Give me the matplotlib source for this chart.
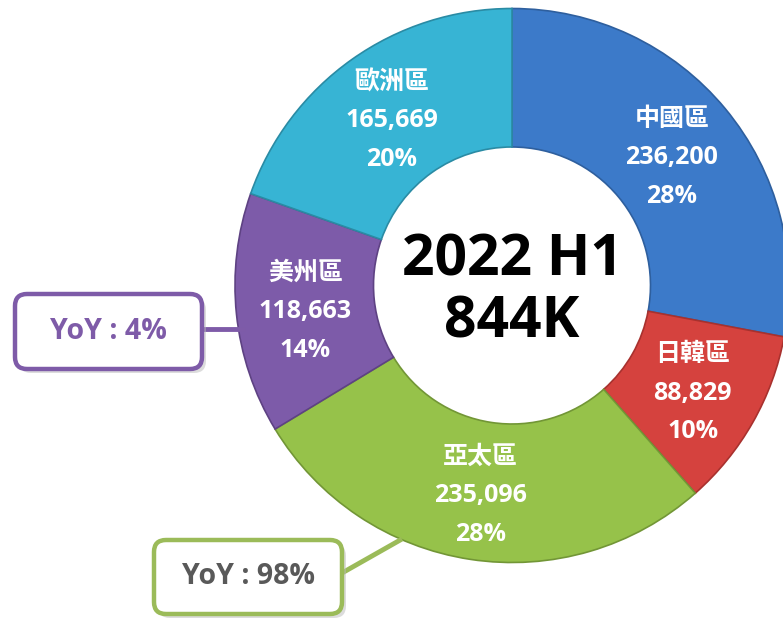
import matplotlib.pyplot as plt
from matplotlib.patches import FancyBboxPatch

plt.rcParams['font.family'] = ['Open Sans', 'Noto Sans CJK TC', 'DejaVu Sans']

regions = ['中國區', '日韓區', '亞太區', '美州區', '歐洲區']
units = [236200, 88829, 235096, 118663, 165669]
shares = [28, 10, 28, 14, 20]
colors = ['#3C7AC9', '#D5423E', '#96C24A', '#7D5BA9', '#37B4D4']
edges = ['#2E5F9E', '#A8312E', '#729636', '#5E4283', '#2A8BA4']

title_lines = ['2022 H1', '844K']
yoy_purple = 'YoY : 4%'
yoy_green = 'YoY : 98%'

W, H = 783, 618
fig = plt.figure(figsize=(W / 100, H / 100), dpi=100)
ax = fig.add_axes([0, 0, 1, 1])

labels = [f'{r}\n{u:,}\n{s}%' for r, u, s in zip(regions, units, shares)]
cx, cy, R = 512, H - 285.5, 277
wedges, texts = ax.pie(units, labels=labels, colors=colors, startangle=90,
                       counterclock=False, center=(cx, cy), radius=R,
                       labeldistance=0.75,
                       wedgeprops=dict(width=R * 0.5, linewidth=1.2),
                       textprops=dict(color='white', fontsize=18, fontweight='bold',
                                      ha='center', va='center', linespacing=1.7))
for w, e in zip(wedges, edges):
    w.set_edgecolor(e)
for t in texts:
    x, y = t.get_position()
    t.set_position((x, y - 5))

ax.set_xlim(0, W)
ax.set_ylim(0, H)
ax.set_aspect('equal')
ax.axis('off')

# center title
ax.text(cx, H - 261, title_lines[0], ha='center', va='center', fontsize=41,
        fontweight='bold', color='black')
ax.text(cx, H - 323, title_lines[1], ha='center', va='center', fontsize=41,
        fontweight='bold', color='black')


def callout(x0, y0, x1, y1, text, edge, tcolor, line):
    # shadow
    ax.add_patch(FancyBboxPatch((x0 + 4, H - y1 - 4), x1 - x0, y1 - y0,
                                boxstyle='round,pad=0,rounding_size=12',
                                fc='#bbbbbb', ec='none', alpha=0.5, zorder=4))
    ax.plot(line[0], [H - v for v in line[1]], color=edge, lw=3.5, zorder=3,
            solid_capstyle='butt')
    ax.add_patch(FancyBboxPatch((x0, H - y1), x1 - x0, y1 - y0,
                                boxstyle='round,pad=0,rounding_size=12',
                                fc='white', ec=edge, lw=3.2, zorder=5))
    ax.text((x0 + x1) / 2, H - (y0 + y1) / 2, text, ha='center', va='center',
            fontsize=20.5, fontweight='bold', color=tcolor, zorder=6)


callout(15, 294, 202, 369, yoy_purple, '#7E5BA8', '#7E5BA8',
        ([202, 245], [329, 329]))
callout(154, 540, 342, 614, yoy_green, '#9BBB59', '#595959',
        ([342, 402], [573, 539]))

fig.savefig('out.png', dpi=100)
